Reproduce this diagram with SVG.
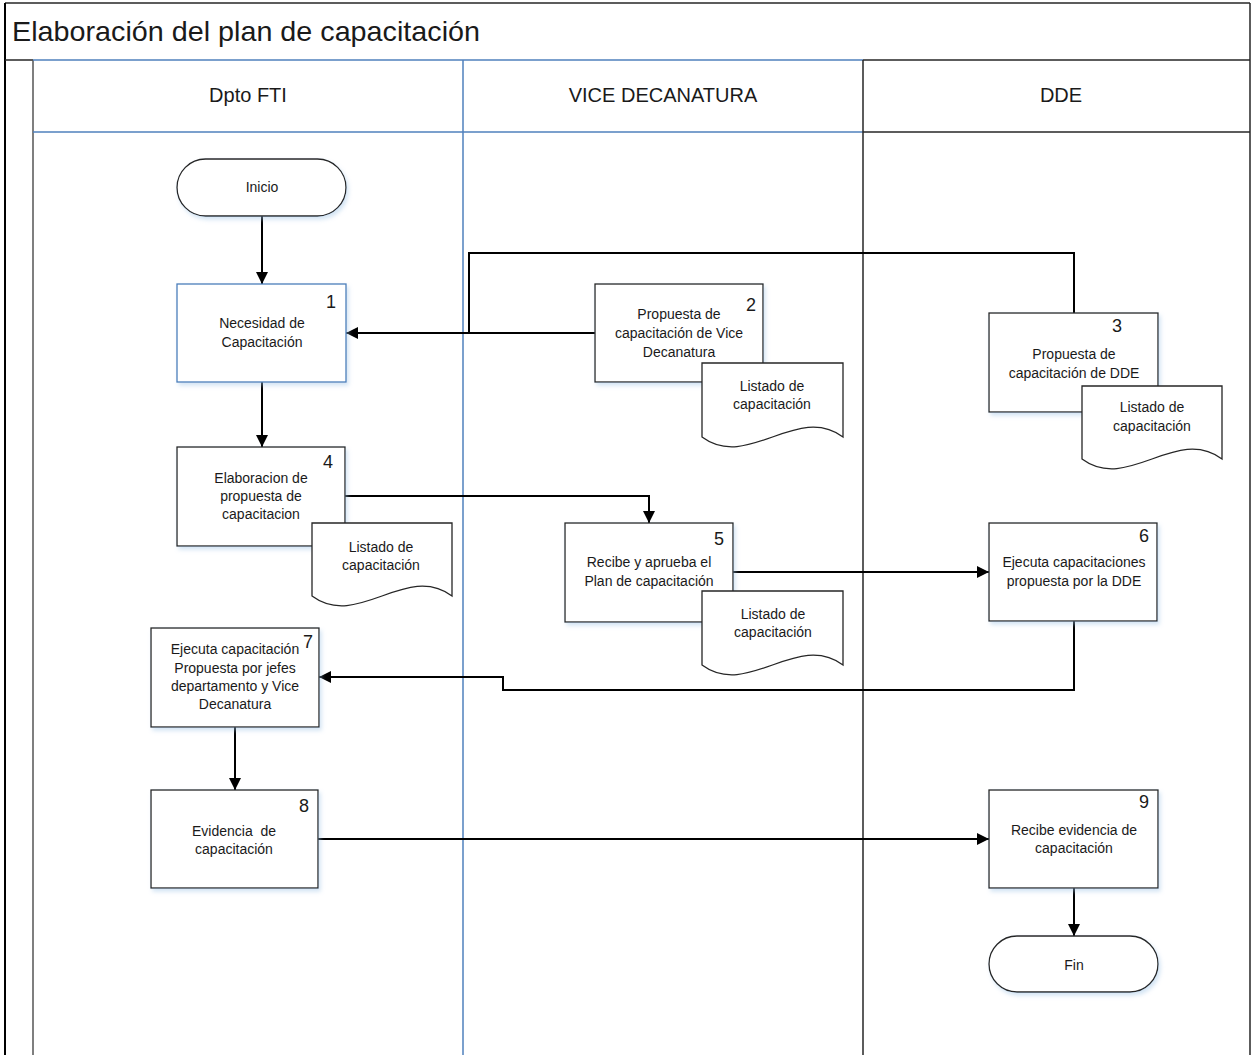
<svg xmlns="http://www.w3.org/2000/svg" width="1252" height="1055" viewBox="0 0 1252 1055">
  <style>
    text { font-family: "Liberation Sans", Arial, sans-serif; fill: #1a1a1a; }
    .title { font-size: 28.5px; }
    .lane { font-size: 20px; text-anchor: middle; }
    .t { font-size: 14px; text-anchor: middle; }
    .num { font-size: 18px; text-anchor: end; }
    .box { fill: #ffffff; stroke: #262626; stroke-width: 1.3; filter: url(#shadow); }
    .box-blue { fill: #ffffff; stroke: #4a7ebb; stroke-width: 1.3; filter: url(#shadow); }
    .doc { fill: #ffffff; stroke: #262626; stroke-width: 1.3; }
    .lane-blue { stroke: #4f81bd; stroke-width: 1.5; fill: none; }
    .lane-dark { stroke: #262626; stroke-width: 1.5; fill: none; }
    .conn { fill: none; stroke: #000000; stroke-width: 2; }
  </style>
  <defs>
    <marker id="arrow" viewBox="0 0 12 12" refX="12" refY="6" markerWidth="12" markerHeight="12" markerUnits="userSpaceOnUse" orient="auto">
      <path d="M0,0 L12,6 L0,12 Z" fill="#000000"/>
    </marker>
    <filter id="shadow" x="-10%" y="-10%" width="130%" height="130%">
      <feDropShadow dx="2" dy="3" stdDeviation="2" flood-color="#9dc3e6" flood-opacity="0.45"/>
    </filter>
  </defs>

  <rect width="1252" height="1055" fill="#ffffff"/>

  <!-- pool frame and title -->
  <g id="pool">
    <line x1="5" y1="3" x2="1250" y2="3" class="lane-dark"/>
    <line x1="5" y1="3" x2="5" y2="1055" stroke="#000" stroke-width="2"/>
    <line x1="1250" y1="3" x2="1250" y2="1055" class="lane-dark"/>
    <line x1="5" y1="60" x2="33" y2="60" class="lane-dark"/>
    <text class="title" x="12" y="41" textLength="468" lengthAdjust="spacingAndGlyphs">Elaboración del plan de capacitación</text>
  </g>

  <!-- swimlanes -->
  <g id="lanes">
    <line x1="33" y1="60" x2="33" y2="1055" stroke="#555" stroke-width="1.5"/>
    <line x1="33" y1="60" x2="863" y2="60" class="lane-blue"/>
    <line x1="33" y1="132" x2="863" y2="132" class="lane-blue"/>
    <line x1="463" y1="60" x2="463" y2="1055" class="lane-blue"/>
    <line x1="863" y1="60" x2="1250" y2="60" class="lane-dark"/>
    <line x1="863" y1="132" x2="1250" y2="132" class="lane-dark"/>
    <line x1="863" y1="60" x2="863" y2="1055" class="lane-dark"/>
    <text class="lane" x="248" y="102">Dpto FTI</text>
    <text class="lane" x="663" y="102">VICE DECANATURA</text>
    <text class="lane" x="1061" y="102">DDE</text>
  </g>

  <!-- connectors -->
  <g id="connectors">
    <path class="conn" d="M262,216 V284" marker-end="url(#arrow)"/>
    <path class="conn" d="M595,333 H346" marker-end="url(#arrow)"/>
    <path class="conn" d="M1074,313 V253 H469 V333"/>
    <path class="conn" d="M262,382 V447" marker-end="url(#arrow)"/>
    <path class="conn" d="M345,496 H649 V523" marker-end="url(#arrow)"/>
    <path class="conn" d="M733,572 H989" marker-end="url(#arrow)"/>
    <path class="conn" d="M1074,621 V690 H503 V677 H319" marker-end="url(#arrow)"/>
    <path class="conn" d="M235,727 V790" marker-end="url(#arrow)"/>
    <path class="conn" d="M318,839 H989" marker-end="url(#arrow)"/>
    <path class="conn" d="M1074,888 V936" marker-end="url(#arrow)"/>
  </g>

  <g id="inicio">
    <rect class="box" x="177" y="159" width="169" height="57" rx="28.5"/>
    <text class="t" x="262" y="192">Inicio</text>
  </g>

  <g id="n1">
    <rect class="box-blue" x="177" y="284" width="169" height="98"/>
    <text class="num" x="336" y="308">1</text>
    <text class="t" x="262" y="328">Necesidad de</text>
    <text class="t" x="262" y="347">Capacitación</text>
  </g>

  <g id="n2">
    <rect class="box" x="595" y="284" width="168" height="98"/>
    <text class="num" x="756" y="311">2</text>
    <text class="t" x="679" y="319">Propuesta de</text>
    <text class="t" x="679" y="338">capacitación de Vice</text>
    <text class="t" x="679" y="357">Decanatura</text>
  </g>
  <g id="doc2">
    <path class="doc" d="M702,363 H843 V437 C797,403 748,471 702,437 Z"/>
    <text class="t" x="772" y="391">Listado de</text>
    <text class="t" x="772" y="409">capacitación</text>
  </g>

  <g id="n3">
    <rect class="box" x="989" y="313" width="169" height="99"/>
    <text class="num" x="1122" y="332">3</text>
    <text class="t" x="1074" y="359">Propuesta de</text>
    <text class="t" x="1074" y="378">capacitación de DDE</text>
  </g>
  <g id="doc3">
    <path class="doc" d="M1082,386 H1222 V459 C1176,425 1128,493 1082,459 Z"/>
    <text class="t" x="1152" y="412">Listado de</text>
    <text class="t" x="1152" y="431">capacitación</text>
  </g>

  <g id="n4">
    <rect class="box" x="177" y="447" width="168" height="99"/>
    <text class="num" x="333" y="468">4</text>
    <text class="t" x="261" y="483">Elaboracion de</text>
    <text class="t" x="261" y="501">propuesta de</text>
    <text class="t" x="261" y="519">capacitacion</text>
  </g>
  <g id="doc4">
    <path class="doc" d="M312,523 H452 V596 C406,562 358,630 312,596 Z"/>
    <text class="t" x="381" y="552">Listado de</text>
    <text class="t" x="381" y="570">capacitación</text>
  </g>

  <g id="n5">
    <rect class="box" x="565" y="523" width="168" height="99"/>
    <text class="num" x="724" y="545">5</text>
    <text class="t" x="649" y="567">Recibe y aprueba el</text>
    <text class="t" x="649" y="586">Plan de capacitación</text>
  </g>
  <g id="doc5">
    <path class="doc" d="M702,591 H843 V665 C797,631 748,699 702,665 Z"/>
    <text class="t" x="773" y="619">Listado de</text>
    <text class="t" x="773" y="637">capacitación</text>
  </g>

  <g id="n6">
    <rect class="box" x="989" y="523" width="168" height="98"/>
    <text class="num" x="1149" y="542">6</text>
    <text class="t" x="1074" y="567">Ejecuta capacitaciones</text>
    <text class="t" x="1074" y="586">propuesta por la DDE</text>
  </g>

  <g id="n7">
    <rect class="box" x="151" y="628" width="168" height="99"/>
    <text class="num" x="313" y="648">7</text>
    <text class="t" x="235" y="654">Ejecuta capacitación</text>
    <text class="t" x="235" y="673">Propuesta por jefes</text>
    <text class="t" x="235" y="691">departamento y Vice</text>
    <text class="t" x="235" y="709">Decanatura</text>
  </g>

  <g id="n8">
    <rect class="box" x="151" y="790" width="167" height="98"/>
    <text class="num" x="309" y="812">8</text>
    <text class="t" x="234" y="836" xml:space="preserve">Evidencia  de</text>
    <text class="t" x="234" y="854">capacitación</text>
  </g>

  <g id="n9">
    <rect class="box" x="989" y="790" width="169" height="98"/>
    <text class="num" x="1149" y="808">9</text>
    <text class="t" x="1074" y="835">Recibe evidencia de</text>
    <text class="t" x="1074" y="853">capacitación</text>
  </g>

  <g id="fin">
    <rect class="box" x="989" y="936" width="169" height="56" rx="28"/>
    <text class="t" x="1074" y="970">Fin</text>
  </g>
</svg>
